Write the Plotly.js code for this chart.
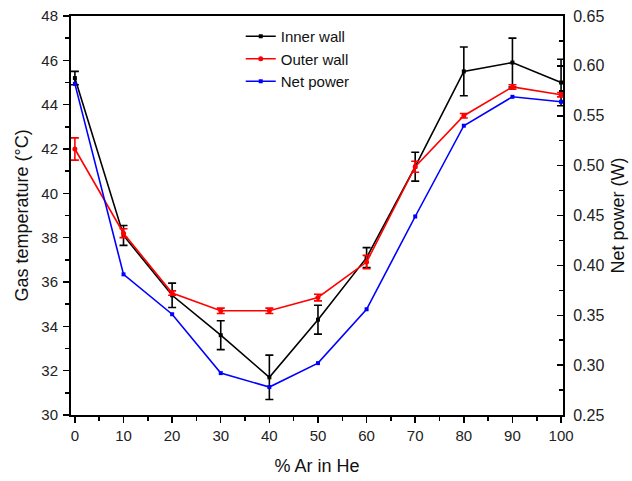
<!DOCTYPE html>
<html>
<head>
<meta charset="utf-8">
<script src="https://cdn.plot.ly/plotly-3.0.1.min.js"></script>
<style>
  html, body { margin: 0; padding: 0; background: #fff; }
  #chart { width: 632px; height: 481px; }
</style>
</head>
<body>
<div id="chart"></div>
<script>
// Argon fraction in helium (%)
const arPercent = [0, 10, 20, 30, 40, 50, 60, 70, 80, 90, 100];

// Gas temperature at the inner wall (°C) and its error
const innerWall    = [45.2, 38.1, 35.4, 33.6, 31.7, 34.3, 37.1, 41.2, 45.5, 45.9, 45.0];
const innerWallErr = [0.3, 0.45, 0.55, 0.65, 1.0, 0.65, 0.45, 0.65, 1.1, 1.1, 1.05];

// Gas temperature at the outer wall (°C) and its error
const outerWall    = [42.0, 38.2, 35.5, 34.7, 34.7, 35.3, 36.9, 41.2, 43.5, 44.8, 44.45];
const outerWallErr = [0.5, 0.2, 0.1, 0.12, 0.12, 0.15, 0.3, 0.25, 0.1, 0.1, 0.1];

// Net power (W)
const netPower = [0.582, 0.391, 0.351, 0.292, 0.278, 0.302, 0.356, 0.449, 0.540, 0.569, 0.564];

const FONT = 'Liberation Sans, Arial, sans-serif';

const traces = [
  {
    name: 'Inner wall', x: arPercent, y: innerWall,
    type: 'scatter', mode: 'lines+markers',
    line: { color: '#000000', width: 1.6 },
    marker: { symbol: 'square', size: 4, color: '#000000' },
    error_y: { type: 'data', array: innerWallErr, visible: true, color: '#000000', thickness: 1.6, width: 4 }
  },
  {
    name: 'Outer wall', x: arPercent, y: outerWall,
    type: 'scatter', mode: 'lines+markers',
    line: { color: '#ff0000', width: 1.6 },
    marker: { symbol: 'circle', size: 5, color: '#ff0000' },
    error_y: { type: 'data', array: outerWallErr, visible: true, color: '#ff0000', thickness: 1.6, width: 4 }
  },
  {
    name: 'Net power', x: arPercent, y: netPower, yaxis: 'y2',
    type: 'scatter', mode: 'lines+markers',
    line: { color: '#0000ff', width: 1.6 },
    marker: { symbol: 'square', size: 4, color: '#0000ff' }
  }
];

const layout = {
  width: 632, height: 481,
  margin: { l: 71, r: 69, t: 16, b: 66 },
  paper_bgcolor: '#ffffff', plot_bgcolor: '#ffffff',
  font: { family: FONT, size: 15, color: '#222222' },
  showlegend: true,
  legend: {
    x: 0.345, y: 0.99, xanchor: 'left', yanchor: 'top',
    bgcolor: 'rgba(0,0,0,0)', font: { family: FONT, size: 15, color: '#111111' },
    tracegroupgap: 0, itemwidth: 30
  },
  xaxis: {
    range: [-0.8, 100.4],
    tickvals: arPercent, ticktext: arPercent.map(String),
    ticks: 'outside', ticklen: 6, tickwidth: 1.5, tickcolor: '#000',
    minor: { dtick: 5, ticks: 'outside', ticklen: 4, tickwidth: 1.5, tickcolor: '#000' },
    showline: true, linecolor: '#000', linewidth: 2, mirror: true,
    showgrid: false, zeroline: false,
    tickfont: { family: FONT, size: 15, color: '#222' },
    title: { text: '% Ar in He', font: { family: FONT, size: 18, color: '#111' }, standoff: 16 }
  },
  yaxis: {
    range: [30, 48], dtick: 2,
    ticks: 'outside', ticklen: 6, tickwidth: 1.5, tickcolor: '#000',
    minor: { dtick: 1, ticks: 'outside', ticklen: 4, tickwidth: 1.5, tickcolor: '#000' },
    showline: true, linecolor: '#000', linewidth: 2,
    showgrid: false, zeroline: false,
    ticklabelstandoff: 2,
    tickfont: { family: FONT, size: 15, color: '#222' },
    title: { text: 'Gas temperature (°C)', font: { family: FONT, size: 18, color: '#111' }, standoff: 8 }
  },
  yaxis2: {
    overlaying: 'y', side: 'right',
    range: [0.25, 0.65], dtick: 0.05, tickformat: '.2f',
    ticks: 'inside', ticklen: 6, tickwidth: 1.5, tickcolor: '#000',
    minor: { dtick: 0.025, ticks: 'inside', ticklen: 4, tickwidth: 1.5, tickcolor: '#000' },
    showline: true, linecolor: '#000', linewidth: 2,
    showgrid: false, zeroline: false,
    ticklabelstandoff: 5,
    tickfont: { family: FONT, size: 16, color: '#222' },
    title: { text: 'Net power (W)', font: { family: FONT, size: 18, color: '#111' }, standoff: 8 }
  }
};

Plotly.newPlot('chart', traces, layout, { staticPlot: true, displayModeBar: false });
</script>
</body>
</html>
